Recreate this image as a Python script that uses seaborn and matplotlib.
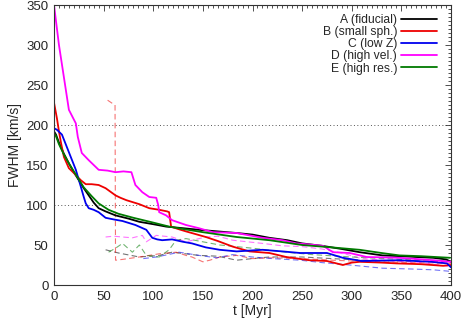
import matplotlib
matplotlib.use("Agg")
import matplotlib.pyplot as plt
import seaborn as sns
import pandas as pd
from matplotlib.ticker import MultipleLocator

# ---- data ----
a_t = [0, 2, 5, 10, 15, 20, 25, 30, 35, 40, 45, 52, 62, 75, 86, 100, 113, 130, 146, 165, 184, 200, 217, 235, 250, 270, 290, 308, 331, 350, 365, 382, 395, 400]
a_y = [192, 188, 178, 164, 152, 141, 131, 121, 112, 103, 96, 92, 87, 83, 79, 76, 73, 71, 69, 67, 65, 63, 59, 56, 52, 49, 45, 41, 37, 36, 35, 34, 32, 29]

b_t = [0, 3, 5, 7, 10, 15, 20, 27, 32, 38, 45, 52, 62, 67, 73, 86, 96, 106, 114, 116, 118, 125, 133, 153, 165, 180, 197, 217, 234, 257, 275, 291, 300, 308, 330, 345, 370, 392, 400]
b_y = [228, 208, 192, 178, 160, 146, 140, 131, 126, 126, 125, 121, 112, 109, 106, 101, 96, 94, 92, 91, 73, 70, 67, 60, 55, 48, 42, 40, 35, 31, 30, 25, 28, 29, 28, 27, 26, 24, 25]

c_t = [0, 3, 8, 15, 22, 27, 30, 32, 35, 40, 45, 52, 60, 69, 82, 93, 99, 104, 109, 119, 130, 139, 153, 167, 184, 210, 230, 248, 275, 291, 310, 348, 380, 396, 400]
c_y = [196, 194, 188, 166, 144, 123, 110, 102, 96, 94, 91, 84, 82, 80, 75, 69, 59, 57, 56, 57, 54, 52, 47, 44, 42, 44, 42, 40, 40, 34, 30, 31, 29, 27, 22]

d_t = [0, 5, 15, 22, 24, 28, 35, 45, 54, 62, 70, 78, 82, 89, 96, 103, 105, 106, 113, 119, 133, 146, 160, 184, 210, 230, 244, 254, 271, 281, 298, 315, 348, 382, 400]
d_y = [350, 300, 219, 202, 185, 165, 156, 144, 143, 141, 142, 141, 125, 116, 110, 109, 100, 91, 87, 81, 75, 71, 66, 65, 59, 56, 52, 51, 49, 41, 40, 35, 34, 31, 29]

e_t = [0, 2, 5, 10, 15, 20, 25, 30, 38, 45, 55, 65, 80, 100, 116, 130, 150, 184, 217, 250, 280, 308, 330, 348, 370, 399]
e_y = [190, 186, 176, 163, 152, 142, 132, 122, 111, 102, 94, 89, 84, 78, 73, 70, 66, 60, 56, 50, 47, 44, 40, 37, 36, 34]

# dashed (secondary) curves
ad_t = [52, 65, 86, 106, 119, 146, 165, 184, 200, 217, 250, 280, 310, 350, 400]
ad_y = [44, 40, 35, 37, 41, 37, 36, 31, 33, 35, 35, 33, 31, 30, 29]

bd_t = [54, 60, 61.5, 62, 69, 86, 106, 123, 133, 139, 150, 157, 167, 184, 200, 220, 250, 280, 300, 330, 360, 400]
bd_y = [231, 226, 225, 31, 32, 35, 39, 41, 37, 35, 29, 31, 35, 37, 33, 34, 33, 31, 30, 29, 28, 27]

cd_t = [90, 103, 115, 126, 146, 164, 180, 200, 220, 248, 270, 298, 331, 360, 382, 400]
cd_y = [33, 35, 38, 41, 37, 34, 38, 35, 33, 31, 28, 25, 21, 20, 19, 17]

dd_t = [52, 60, 69, 79, 89, 93, 103, 119, 133, 153, 165, 180, 210, 230, 250, 270, 290, 310, 340, 370, 400]
dd_y = [60, 61, 60, 59, 62, 54, 62, 60, 54, 60, 61, 56, 52, 49, 48, 45, 40, 33, 30, 28, 23]

ed_t = [55, 62, 69, 79, 86, 93, 106, 116, 123, 133, 150, 167, 200, 234, 260, 300, 350, 400]
ed_y = [41, 46, 52, 41, 50, 37, 35, 44, 56, 58, 54, 50, 46, 41, 38, 35, 32, 30]

labels = ["A (fiducial)", "B (small sph.)", "C (low Z)", "D (high vel.)", "E (high res.)"]
colors = ["#000000", "#ee0000", "#0000ee", "#ff00ff", "#007a00"]

solid = [(a_t, a_y), (b_t, b_y), (c_t, c_y), (d_t, d_y), (e_t, e_y)]
dashed = [(ad_t, ad_y), (bd_t, bd_y), (cd_t, cd_y), (dd_t, dd_y), (ed_t, ed_y)]

sns.set_style("white")
plt.rcParams["font.family"] = ["Liberation Sans", "DejaVu Sans"]

fig = plt.figure(figsize=(4.63, 3.23), dpi=100)
ax = fig.add_axes([54 / 463, 1 - 285 / 323, (451 - 54) / 463, (285 - 5) / 323])

# grid lines at 100 and 200
for g in [100, 200]:
    ax.axhline(g, color="#555555", lw=0.7, ls=(0, (1, 2.5)), zorder=0)

for (t, y), c in zip(dashed, colors):
    df = pd.DataFrame({"t": t, "y": y})
    sns.lineplot(data=df, x="t", y="y", ax=ax, color=c, lw=0.8, alpha=0.55,
                 sort=False, estimator=None, legend=False,
                 linestyle=(0, (5, 3)))

handles = []
for (t, y), c, lab in zip(solid, colors, labels):
    df = pd.DataFrame({"t": t, "y": y})
    sns.lineplot(data=df, x="t", y="y", ax=ax, color=c, lw=1.3,
                 sort=False, estimator=None, legend=False)
    handles.append(ax.lines[-1])

ax.set_xlim(0, 400)
ax.set_ylim(0, 350)
ax.xaxis.set_major_locator(MultipleLocator(50))
ax.xaxis.set_minor_locator(MultipleLocator(5))
ax.yaxis.set_major_locator(MultipleLocator(50))
ax.yaxis.set_minor_locator(MultipleLocator(5))
ax.tick_params(which="both", direction="in", top=True, right=True,
               color="#333333", labelsize=9.5)
ax.tick_params(which="major", length=4, width=0.6, pad=4)
ax.tick_params(which="minor", length=2, width=0.6)
for s in ax.spines.values():
    s.set_color("#333333")
    s.set_linewidth(0.8)

ax.set_xlabel("t [Myr]", fontsize=10, labelpad=1)
ax.set_ylabel("FWHM [km/s]", fontsize=10, labelpad=3)

leg = ax.legend(handles, labels, loc="upper right", frameon=False,
                markerfirst=False, fontsize=8.7, handlelength=3.0,
                handletextpad=0.3, labelspacing=0.02,
                borderaxespad=0.0, bbox_to_anchor=(0.977, 0.986))
for txt in leg.get_texts():
    txt.set_ha("right")

fig.savefig("out.png", dpi=100)
